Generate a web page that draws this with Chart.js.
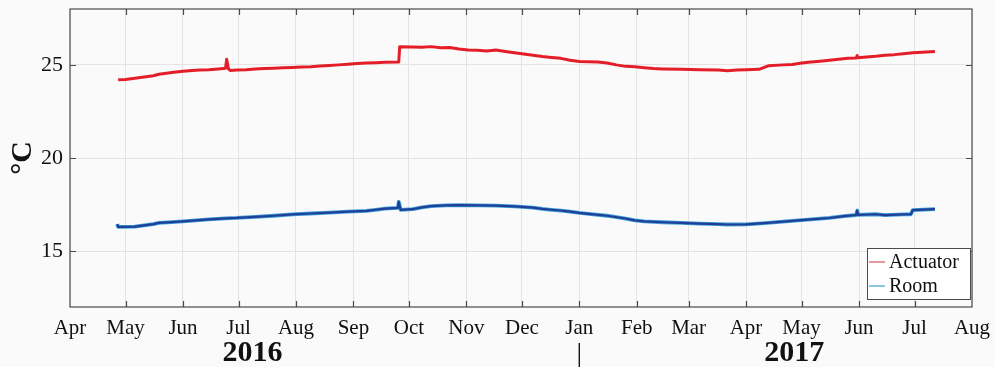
<!DOCTYPE html>
<html>
<head>
<meta charset="utf-8">
<script src="https://cdn.jsdelivr.net/npm/chart.js@4.4.1/dist/chart.umd.min.js"></script>
<style>
  html, body { margin: 0; padding: 0; background: #fafafa; }
  #wrap { width: 995px; height: 367px; }
</style>
</head>
<body>
<div id="wrap"><canvas id="c" width="995" height="367"></canvas></div>
<script>
// Days counted from 1 Apr 2016
const monthStarts = [0, 30, 61, 91, 122, 153, 183, 214, 244, 275, 306, 334, 365, 395, 426, 456, 487];
const monthLabels = ['Apr', 'May', 'Jun', 'Jul', 'Aug', 'Sep', 'Oct', 'Nov', 'Dec', 'Jan', 'Feb', 'Mar', 'Apr', 'May', 'Jun', 'Jul', 'Aug'];
const yTicks = [15, 20, 25];

// Actuator temperature (°C)
const actuatorDays = [26, 30, 35, 40, 45, 48, 52, 56, 61, 66, 70, 75, 80, 84, 84.6, 85.5, 86.5, 90, 95, 100, 105, 110, 115, 120, 125, 130, 135, 140, 145, 150, 155, 160, 165, 170, 177.5,
  178, 185, 190, 195, 200, 205, 210, 215, 220, 225, 230, 235, 240, 245, 250, 255, 260, 265, 270, 275, 280, 285, 290, 295, 300, 305, 310, 315, 320, 330, 340, 350, 355, 360, 365, 372,
  377, 385, 390, 395, 400, 405, 410, 415, 420, 424.5, 425, 425.5, 430, 435, 440, 445, 450, 455, 460, 467];
const actuatorVals = [24.2, 24.22, 24.28, 24.35, 24.42, 24.5, 24.55, 24.6, 24.66, 24.7, 24.72, 24.74, 24.78, 24.82, 25.3, 24.8, 24.7, 24.72, 24.74, 24.78, 24.8, 24.82, 24.84, 24.86, 24.88, 24.9, 24.94, 24.97, 25.0, 25.04, 25.07, 25.1, 25.12, 25.14, 25.15,
  25.97, 25.96, 25.95, 25.98, 25.92, 25.93, 25.85, 25.8, 25.78, 25.75, 25.8, 25.72, 25.65, 25.58, 25.52, 25.45, 25.4, 25.35, 25.25, 25.18, 25.17, 25.15, 25.1, 25.0, 24.92, 24.9, 24.85, 24.8, 24.78, 24.76, 24.74, 24.72, 24.68, 24.72, 24.74, 24.76,
  24.95, 25.0, 25.02, 25.1, 25.16, 25.2, 25.25, 25.3, 25.35, 25.37, 25.5, 25.38, 25.42, 25.46, 25.52, 25.55, 25.6, 25.65, 25.68, 25.72];

// Room temperature (°C)
const roomDays = [25.5, 26, 28, 35, 40, 45, 48, 55, 61, 68, 75, 84, 90, 100, 110, 120, 130, 140, 150, 160, 165, 170, 177, 177.5, 178.5, 185, 190, 195, 203, 210, 220, 230, 240, 250, 255, 260, 265, 270, 275, 280, 290, 300, 305, 310, 320, 330, 340, 350, 355, 365, 375, 385, 400, 410, 418, 424.5, 425, 425.5, 435, 440, 450, 454, 455, 467];
const roomVals = [16.45, 16.3, 16.3, 16.32, 16.38, 16.45, 16.52, 16.56, 16.6, 16.65, 16.7, 16.76, 16.78, 16.84, 16.9, 16.97, 17.02, 17.07, 17.12, 17.16, 17.22, 17.28, 17.32, 17.65, 17.22, 17.25, 17.35, 17.42, 17.46, 17.47, 17.46, 17.44, 17.4, 17.34, 17.27, 17.22, 17.18, 17.12, 17.05, 17.0, 16.9, 16.75, 16.65, 16.6, 16.55, 16.52, 16.48, 16.45, 16.43, 16.44, 16.5, 16.58, 16.7, 16.78, 16.88, 16.94, 17.18, 16.95, 16.98, 16.93, 16.97, 16.98, 17.2, 17.25];

const toPoints = (days, vals) => days.map((d, i) => ({ x: d, y: vals[i] }));

const serif = '"Liberation Serif", "Times New Roman", serif';
const frameColor = '#4a4a4a';

// Axis frame, inward tick marks, legend and year captions
const decorations = {
  id: 'decorations',
  afterDraw(chart) {
    const ctx = chart.ctx;
    const a = chart.chartArea;
    const xs = chart.scales.x, ys = chart.scales.y;
    ctx.save();
    ctx.strokeStyle = frameColor;
    ctx.lineWidth = 1.2;
    ctx.strokeRect(a.left, a.top, a.right - a.left, a.bottom - a.top);
    ctx.beginPath();
    const tl = 6;
    monthStarts.slice(1, -1).forEach(d => {
      const px = Math.round(xs.getPixelForValue(d)) + 0.5;
      ctx.moveTo(px, a.bottom); ctx.lineTo(px, a.bottom - tl);
      ctx.moveTo(px, a.top); ctx.lineTo(px, a.top + tl);
    });
    yTicks.forEach(v => {
      const py = Math.round(ys.getPixelForValue(v)) + 0.5;
      ctx.moveTo(a.left, py); ctx.lineTo(a.left + tl, py);
      ctx.moveTo(a.right, py); ctx.lineTo(a.right - tl, py);
    });
    ctx.stroke();

    // legend box in the lower right corner of the plot
    const entries = chart.data.datasets.filter(ds => ds.legendColor);
    const bw = 103, bh = 51;
    const bx = a.right - 105, by = a.bottom - 59;
    ctx.fillStyle = '#ffffff';
    ctx.fillRect(bx, by, bw, bh);
    ctx.strokeStyle = frameColor;
    ctx.lineWidth = 1;
    ctx.strokeRect(bx + 0.5, by + 0.5, bw, bh);
    ctx.font = '20px ' + serif;
    ctx.textBaseline = 'middle';
    ctx.textAlign = 'left';
    entries.forEach((ds, i) => {
      const cy = by + 14 + i * 24;
      ctx.strokeStyle = ds.legendColor;
      ctx.lineWidth = 1.3;
      ctx.beginPath();
      ctx.moveTo(bx + 2, cy); ctx.lineTo(bx + 18, cy);
      ctx.stroke();
      ctx.fillStyle = '#111';
      ctx.fillText(ds.label, bx + 22, cy + 1);
    });

    // year captions under the month labels
    ctx.fillStyle = '#111';
    ctx.textAlign = 'center';
    ctx.textBaseline = 'middle';
    ctx.font = 'bold 30px ' + serif;
    ctx.fillText('2016', xs.getPixelForValue(98.5), 353);
    ctx.fillText('2017', xs.getPixelForValue(391), 353);
    ctx.font = '28px ' + serif;
    ctx.fillText('|', xs.getPixelForValue(275), 355);
    ctx.restore();
  }
};

new Chart(document.getElementById('c'), {
  type: 'line',
  data: {
    datasets: [
      {
        label: 'Actuator',
        data: toPoints(actuatorDays, actuatorVals),
        borderColor: '#e41e28',
        legendColor: '#d9606c',
        borderWidth: 3,
        order: 0
      },
      {
        label: 'Room',
        data: toPoints(roomDays, roomVals),
        borderColor: '#1f3f98',
        borderWidth: 2.2,
        order: 1
      },
      {
        label: 'Room',
        data: toPoints(roomDays, roomVals),
        borderColor: '#3d9fd6',
        legendColor: '#4aa6d6',
        borderWidth: 3.8,
        order: 2
      }
    ]
  },
  options: {
    responsive: false,
    animation: false,
    devicePixelRatio: 1,
    elements: { point: { radius: 0 }, line: { tension: 0, borderJoinStyle: 'round', borderCapStyle: 'butt' } },
    layout: { padding: { top: 9, right: 23, left: 0, bottom: 0 } },
    plugins: { legend: { display: false }, tooltip: { enabled: false } },
    scales: {
      x: {
        type: 'linear',
        min: 0,
        max: 487,
        afterBuildTicks: s => { s.ticks = monthStarts.map(v => ({ value: v })); },
        afterFit: s => { s.height = 60; s.paddingLeft = 0; s.paddingRight = 0; },
        ticks: {
          autoSkip: false,
          maxRotation: 0,
          padding: 9,
          color: '#111',
          font: { family: serif, size: 21 },
          callback: (v) => monthLabels[monthStarts.indexOf(v)]
        },
        grid: { color: '#e4e4e4', lineWidth: 1, drawTicks: false },
        border: { display: false }
      },
      y: {
        min: 12,
        max: 28,
        afterBuildTicks: s => { s.ticks = yTicks.map(v => ({ value: v })); },
        afterFit: s => { s.width = 70; s.paddingTop = 0; s.paddingBottom = 0; },
        ticks: {
          padding: 7,
          color: '#111',
          font: { family: serif, size: 22 }
        },
        title: {
          display: true,
          text: '°C',
          color: '#111',
          padding: { top: 5, bottom: 0 },
          font: { family: serif, size: 30, weight: 'bold' }
        },
        grid: { color: '#e4e4e4', lineWidth: 1, drawTicks: false },
        border: { display: false }
      }
    }
  },
  plugins: [decorations]
});
</script>
</body>
</html>
